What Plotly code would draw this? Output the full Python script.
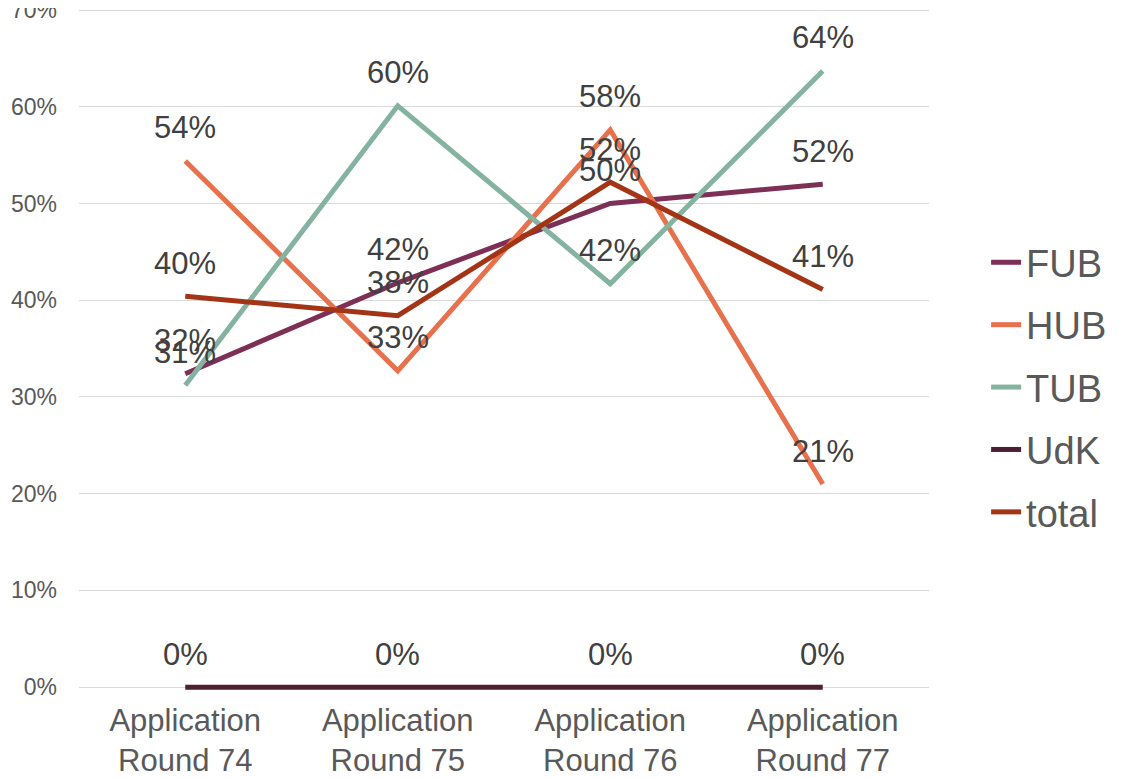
import plotly.graph_objects as go

categories = ["Application<br>Round 74", "Application<br>Round 75",
              "Application<br>Round 76", "Application<br>Round 77"]
series_names = ["FUB", "HUB", "TUB", "UdK", "total"]
fub = [0.324, 0.418, 0.500, 0.520]
hub = [0.544, 0.327, 0.576, 0.210]
tub = [0.312, 0.601, 0.417, 0.637]
udk = [0.0, 0.0, 0.0, 0.0]
total = [0.404, 0.384, 0.522, 0.411]
y_ticks = [0, 0.1, 0.2, 0.3, 0.4, 0.5, 0.6, 0.7]

values = [fub, hub, tub, udk, total]
colors = ["#7e2f55", "#e8714d", "#84b39f", "#4d1f33", "#a33416"]

FONT = "Liberation Sans, Arial, sans-serif"

fig = go.Figure()
for name, vals, col in zip(series_names, values, colors):
    fig.add_trace(go.Scatter(
        x=categories, y=vals, name=name, mode="lines",
        line=dict(color=col, width=5),
        legendgroup=name, cliponaxis=False,
        hoverinfo="skip",
    ))

annotations = []
for vals in values:
    for c, v in zip(categories, vals):
        annotations.append(dict(
            x=c, y=v, xref="x", yref="y", text=f"{v*100:.0f}%",
            showarrow=False, yshift=33,
            font=dict(family=FONT, size=31, color="#404040"),
        ))

fig.update_layout(
    width=1127, height=778,
    margin=dict(l=71, r=206, t=0, b=95, autoexpand=False),
    paper_bgcolor="white", plot_bgcolor="white",
    font=dict(family=FONT, color="#595959"),
    showlegend=True,
    legend=dict(
        x=1.0672, xanchor="left", y=0.445, yanchor="middle",
        font=dict(family=FONT, size=38, color="#595959"),
        tracegroupgap=10, itemwidth=30,
        bgcolor="rgba(0,0,0,0)",
    ),
    annotations=annotations,
    xaxis=dict(
        showgrid=False, showline=False, zeroline=False,
        tickfont=dict(family=FONT, size=31, color="#595959"),
        range=[-0.5, 3.5], automargin=False,
        ticklabelstandoff=8,
    ),
    yaxis=dict(
        range=[-0.004, 0.7021], tickvals=y_ticks, tickformat=".0%",
        showgrid=True, gridcolor="#d9d9d9", gridwidth=1,
        zeroline=False, showline=False, automargin=False,
        tickfont=dict(family=FONT, size=23, color="#595959"),
        ticklabelstandoff=21, ticklabeloverflow="allow",
    ),
)

fig.write_html("out.html")
